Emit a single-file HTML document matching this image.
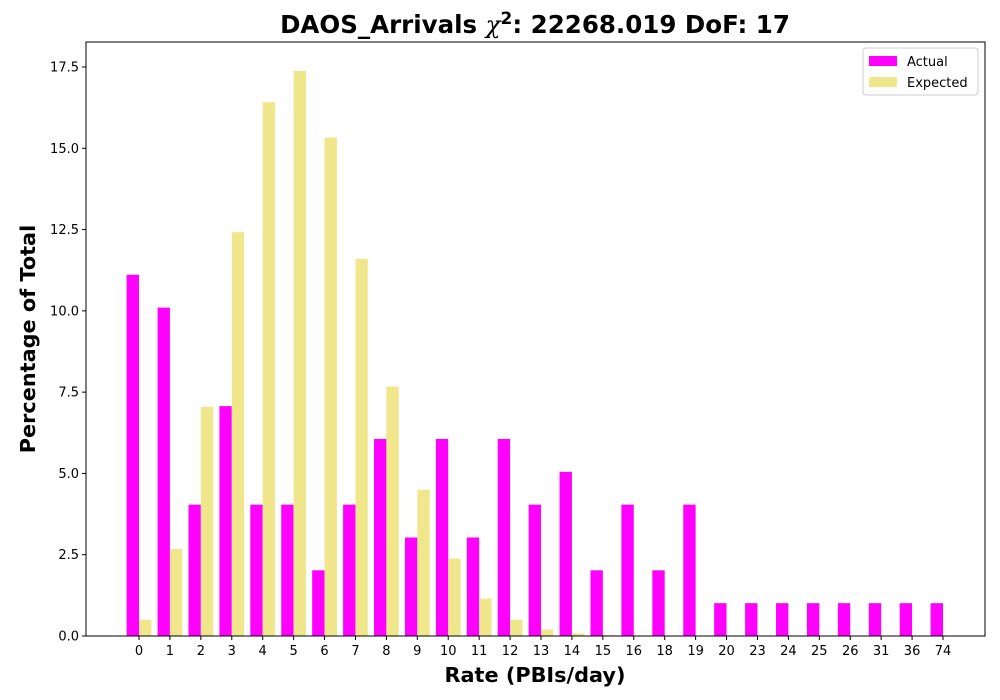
<!DOCTYPE html>
<html><head><meta charset="utf-8"><style>body{margin:0;background:#fff}svg{display:block;font-family:"DejaVu Sans","Liberation Sans",sans-serif}</style></head>
<body>
<svg id="chart" width="1000" height="700" xmlns="http://www.w3.org/2000/svg">
<rect width="1000" height="700" fill="#fff"/>
<text x="535" y="33" text-anchor="middle" font-size="24.5" font-weight="bold">DAOS_Arrivals <tspan font-style="italic" font-family="DejaVu Serif,serif" font-weight="normal">χ</tspan><tspan dy="-9" font-size="17">2</tspan><tspan dy="9">: 22268.019 DoF: 17</tspan></text>
<g id="plot"></g>
<rect x="86" y="42" width="899" height="594" fill="none" stroke="#000" stroke-width="1"/>
<text x="535" y="682" text-anchor="middle" font-size="20.8" font-weight="bold">Rate (PBIs/day)</text>
<text transform="translate(35,339) rotate(-90)" text-anchor="middle" font-size="20.8" font-weight="bold">Percentage of Total</text>
<g>
<rect x="863" y="48" width="115" height="47" rx="3" fill="#fff" stroke="#ccc"/>
<rect x="869" y="56" width="28" height="10" fill="#ff00ff"/>
<text x="907" y="66" font-size="13">Actual</text>
<rect x="869" y="77" width="28" height="10" fill="#f0e68c"/>
<text x="907" y="87" font-size="13">Expected</text>
</g>
</svg>
<script>
const categories=["0","1","2","3","4","5","6","7","8","9","10","11","12","13","14","15","16","18","19","20","23","24","25","26","31","36","74"];
const actual=[11.11,10.10,4.04,7.07,4.04,4.04,2.02,4.04,6.06,3.03,6.06,3.03,6.06,4.04,5.05,2.02,4.04,2.02,4.04,1.01,1.01,1.01,1.01,1.01,1.01,1.01,1.01];
const expected=[0.5,2.67,7.05,12.42,16.42,17.38,15.33,11.6,7.67,4.5,2.38,1.15,0.5,0.2,0.08,0.03,0.01,0,0,0,0,0,0,0,0,0,0];
const yTicks=[0,2.5,5,7.5,10,12.5,15,17.5];
const NS="http://www.w3.org/2000/svg";
const g=document.getElementById('plot');
const x0=139,step=(943-139)/26,bw=step*0.4;
const xs=i=>x0+i*step;
const ys=v=>636-v*(636-67)/17.5;
function mk(t,a){const e=document.createElementNS(NS,t);for(const k in a)e.setAttribute(k,a[k]);g.appendChild(e);return e;}
yTicks.forEach(v=>{
 const l=mk('line',{x1:82,x2:86,y1:ys(v),y2:ys(v),stroke:'#000'});
 
 
 const t=mk('text',{x:79,y:ys(v)+4.5,'text-anchor':'end','font-size':13});
 
 
 t.textContent=v.toFixed(1);
});
categories.forEach((c,i)=>{
 const a=mk('rect',{x:xs(i)-bw,y:ys(actual[i]),width:bw,height:636-ys(actual[i]),fill:'#ff00ff'});
 
 
 const e=mk('rect',{x:xs(i),y:ys(expected[i]),width:bw,height:636-ys(expected[i]),fill:'#f0e68c'});
 
 
 const l=mk('line',{x1:xs(i),x2:xs(i),y1:636,y2:640,stroke:'#000'});
 
 
 const t=mk('text',{x:xs(i),y:655,'text-anchor':'middle','font-size':13});
 
 
 t.textContent=c;
});
</script>
</body></html>
